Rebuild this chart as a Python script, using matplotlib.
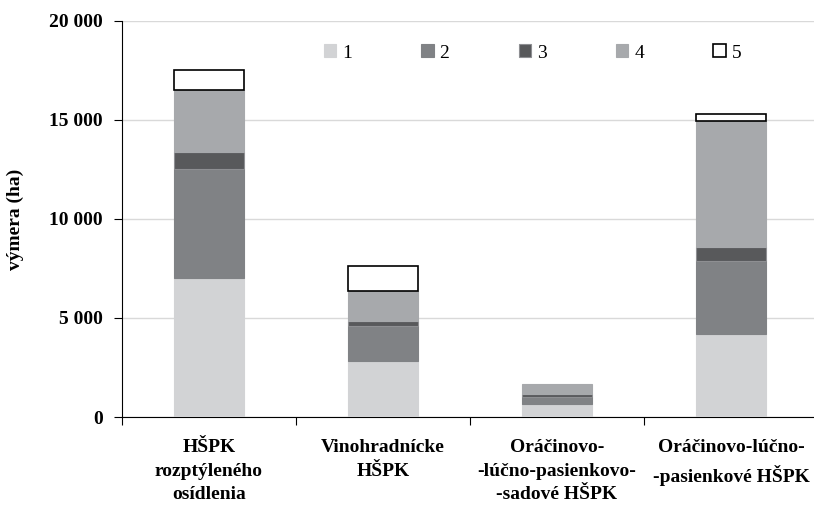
import numpy as np
import matplotlib.pyplot as plt

plt.rcParams['font.family'] = ['Liberation Serif', 'DejaVu Serif']

categories = ['HŠPK\nrozptýleného\nosídlenia', 'Vinohradnícke\nHŠPK',
              'Oráčinovo-\n-lúčno-pasienkovo-\n-sadové HŠPK', 'Oráčinovo-lúčno-\n-pasienkové HŠPK']
layer_names = ['1', '2', '3', '4', '5']
s1 = [7000, 2820, 640, 4170]
s2 = [5530, 1790, 370, 3710]
s3 = [860, 250, 140, 710]
s4 = [3120, 1490, 540, 6370]
s5 = [1030, 1280, 0, 330]
yticks = [0, 5000, 10000, 15000, 20000]
ytick_labels = ['0', '5 000', '10 000', '15 000', '20 000']

colors = ['#d2d3d5', '#808285', '#58595b', '#a7a9ac', 'white']
edges = ['#d2d3d5', '#808285', '#8e8f92', '#a7a9ac', 'black']

fig = plt.figure(figsize=(8.14, 5.05), dpi=100)
ax = fig.add_axes([122 / 814, 1 - 417 / 505, 696 / 814, 396 / 505])

x = np.arange(len(categories))
bottom = np.zeros(len(categories))
for vals, name, c, e in zip([s1, s2, s3, s4, s5], layer_names, colors, edges):
    vals = np.array(vals, dtype=float)
    lw = 1.2 if e == 'black' else 0.8
    lws = [lw if v > 0 else 0 for v in vals]
    ax.bar(x, vals, 0.4, bottom=bottom, color=c, edgecolor=e, linewidth=lws, label=name, zorder=3)
    bottom += vals

ax.set_xlim(-0.5, 3.5)
ax.set_ylim(0, 20000)
ax.set_yticks(yticks)
ax.set_yticklabels(ytick_labels, fontsize=14, fontweight='bold')
ax.yaxis.grid(True, color='#d9d9d9', linewidth=1, zorder=0)
ax.set_axisbelow(True)

ax.set_xticks([-0.5, 0.5, 1.5, 2.5, 3.5])
ax.set_xticklabels([])
ax.set_xticks(x, minor=True)
ax.set_xticklabels(categories, minor=True, fontsize=14, fontweight='bold', linespacing=1.5)
ax.tick_params(axis='x', which='minor', length=0, pad=16)
ax.tick_params(axis='x', which='major', length=6, direction='out')
ax.tick_params(axis='y', length=6, direction='out', pad=8)

ax.spines['top'].set_visible(False)
ax.spines['right'].set_visible(False)

ax.set_ylabel('výmera (ha)', fontsize=14, fontweight='bold', labelpad=18)

ax.legend(ncol=5, frameon=False, loc='center left', bbox_to_anchor=(194 / 696, 1 - 32 / 396),
          fontsize=14, handlelength=0.65, handleheight=0.65, handletextpad=0.3,
          columnspacing=3.55, borderaxespad=0)

fig.savefig('out.png', dpi=100)
